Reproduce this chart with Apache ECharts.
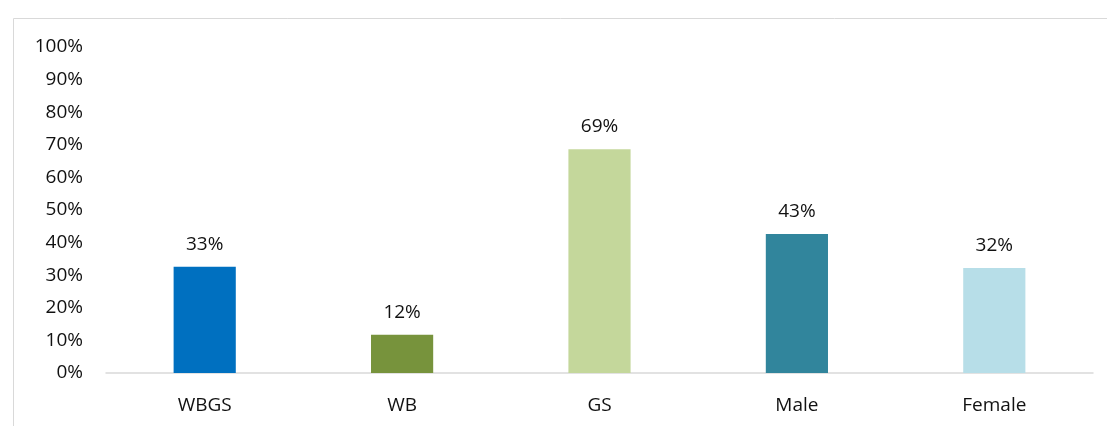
<!DOCTYPE html>
<html><head><meta charset="utf-8">
<script src="https://cdn.jsdelivr.net/npm/echarts@6/dist/echarts.min.js"></script>
<style>html,body{margin:0;padding:0;background:#fff}#c{width:1107px;height:426px}</style>
</head><body><div id="c"></div>
<script>
const categories = ['WBGS', 'WB', 'GS', 'Male', 'Female'];
const values = [32.6, 11.7, 68.6, 42.6, 32.2];
const colors = ['#0070C0', '#77933C', '#C4D79B', '#31859C', '#B7DEE8'];
const yTicks = [0, 10, 20, 30, 40, 50, 60, 70, 80, 90, 100];

const font = '"Open Sans", "Noto Sans", sans-serif';
const chart = echarts.init(document.getElementById('c'));
chart.setOption({
  animation: false,
  graphic: [{type: 'rect', shape: {x: 13.5, y: 18.5, width: 1110, height: 420}, style: {fill: 'none', stroke: '#D9D9D9', lineWidth: 1}}],
  grid: {left: 106, right: 14, top: 47, bottom: 53},
  xAxis: {
    type: 'category', data: categories,
    axisLine: {lineStyle: {color: '#D9D9D9', width: 1.5}},
    axisTick: {show: false},
    axisLabel: {color: '#111', fontSize: 19, fontFamily: font, margin: 23}
  },
  yAxis: {
    type: 'value', min: 0, max: 100, interval: 10,
    axisLine: {show: false}, axisTick: {show: false}, splitLine: {show: false},
    axisLabel: {color: '#111', fontSize: 19, fontFamily: font, margin: 23,
      formatter: v => yTicks.includes(v) ? v + '%' : ''}
  },
  series: [{
    type: 'bar', barWidth: '31.5%',
    data: values.map((v, i) => ({value: v, itemStyle: {color: colors[i]}})),
    label: {show: true, position: 'top', distance: 13, color: '#111', fontSize: 19, fontFamily: font,
      formatter: p => Math.round(p.value) + '%'}
  }]
});
</script></body></html>
